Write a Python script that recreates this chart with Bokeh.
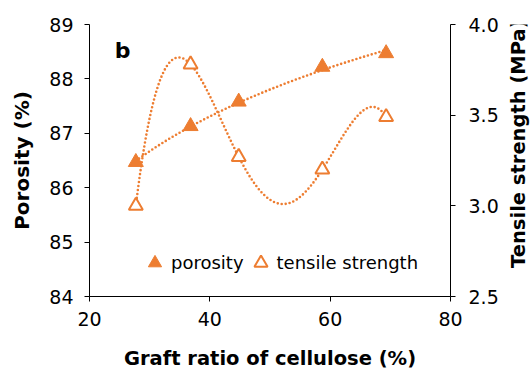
import math
import numpy as np
from bokeh.plotting import figure
from bokeh.layouts import row
from bokeh.core.properties import value
from bokeh.models import (Range1d, LinearAxis, FixedTicker, PrintfTickFormatter,
                          Legend, LegendItem, Label)
from bokeh.embed import file_html
from bokeh.resources import INLINE

# ---- data ----
graft_ratio = [27.7, 36.8, 44.8, 58.7, 69.3]
porosity = [86.47, 87.13, 87.58, 88.22, 88.47]
tensile_strength = [3.00, 3.78, 3.27, 3.20, 3.49]
x_ticks = [20, 40, 60, 80]
left_ticks = [84, 85, 86, 87, 88, 89]
right_ticks = [2.5, 3.0, 3.5, 4.0]
series_names = ["porosity", "tensile strength"]
right_title = "Tensile strength (MPa)"

ORANGE = "#ED7D31"
FONT = "DejaVu Sans"
TICK_SIZE = "19px"

p = figure(width=502, height=372, output_backend="svg", toolbar_location=None,
           x_range=Range1d(20, 80), y_range=Range1d(84, 89),
           min_border_left=89, min_border_right=52, min_border_top=24,
           min_border_bottom=76)
p.extra_y_ranges = {"ts": Range1d(2.5, 4.0)}
p.outline_line_color = None
p.grid.visible = False
p.background_fill_color = "white"
p.border_fill_color = "white"

right_axis = LinearAxis(y_range_name="ts")
p.add_layout(right_axis, "right")


def style_axis(ax, label, ticks, standoff, label_standoff, label_size, fmt=None):
    if label:
        ax.axis_label = label
    ax.ticker = FixedTicker(ticks=ticks)
    if fmt:
        ax.formatter = PrintfTickFormatter(format=fmt)
    ax.axis_line_color = "black"
    ax.axis_line_width = 1
    ax.major_tick_line_color = "black"
    ax.major_tick_in = 0
    ax.major_tick_out = 5
    ax.minor_tick_line_color = None
    ax.major_label_text_font = FONT
    ax.major_label_text_font_size = TICK_SIZE
    ax.major_label_text_color = "black"
    ax.major_label_standoff = standoff
    ax.axis_label_text_font = FONT
    ax.axis_label_text_font_size = label_size
    ax.axis_label_text_font_style = "bold"
    ax.axis_label_text_color = "black"
    ax.axis_label_standoff = label_standoff


style_axis(p.xaxis[0], "Graft ratio of cellulose (%)", x_ticks, 10, 18, "19.5px")
style_axis(p.yaxis[0], "Porosity (%)", left_ticks, 11, 12, "20px")
style_axis(right_axis, None, right_ticks, 13, 5, "20px", "%.1f")

# ---- trendlines (fitted from the data, as in the source chart) ----
xs = np.linspace(min(graft_ratio), max(graft_ratio), 300)
log_fit = np.polyfit(np.log(graft_ratio), porosity, 1)
por_curve = np.polyval(log_fit, np.log(xs))
ts_poly = np.polynomial.Polynomial.fit(graft_ratio, tensile_strength, 4)
ts_curve = ts_poly(xs)

p.line(xs, por_curve, line_color=ORANGE, line_width=2.6, line_dash="0 4",
       line_cap="round")
p.line(xs, ts_curve, y_range_name="ts", line_color=ORANGE, line_width=2.6,
       line_dash="0 4", line_cap="round")

r1 = p.scatter(graft_ratio, porosity, marker="triangle", size=15,
               fill_color=ORANGE, line_color=ORANGE, line_width=1)
r2 = p.scatter(graft_ratio, tensile_strength, y_range_name="ts",
               marker="triangle", size=14, fill_color="white",
               line_color=ORANGE, line_width=2)

legend = Legend(items=[LegendItem(label=series_names[0], renderers=[r1]),
                       LegendItem(label=series_names[1], renderers=[r2])],
                orientation="horizontal", location=(49, 17),
                glyph_width=33, glyph_height=33, label_standoff=-7,
                spacing=-2, padding=0, margin=0,
                border_line_color=None, background_fill_alpha=0,
                label_text_font=FONT, label_text_font_size="18px",
                label_text_color="black")
p.add_layout(legend)

p.add_layout(Label(x=24.2, y=88.52, text="b", text_font=FONT,
                   text_font_style="bold", text_font_size="22px",
                   text_baseline="alphabetic", text_color="black"))

# ---- narrow strip carrying the right-hand axis title (reads bottom-to-top) ----
p2 = figure(width=30, height=372, output_backend="svg", toolbar_location=None,
            x_range=Range1d(0, 30), y_range=Range1d(0, 372),
            x_axis_type=None, y_axis_type=None, min_border=0)
p2.outline_line_color = None
p2.grid.visible = False
p2.background_fill_color = "white"
p2.border_fill_color = "white"
p2.text(x=[15.5], y=[209], text=[right_title], angle=math.pi / 2,
        text_align="center", text_baseline="middle",
        text_font=value(FONT), text_font_style="bold",
        text_font_size="19.5px", text_color="black")

layout = row(p, p2, spacing=0)
open("out.html", "w").write(file_html(layout, INLINE))
